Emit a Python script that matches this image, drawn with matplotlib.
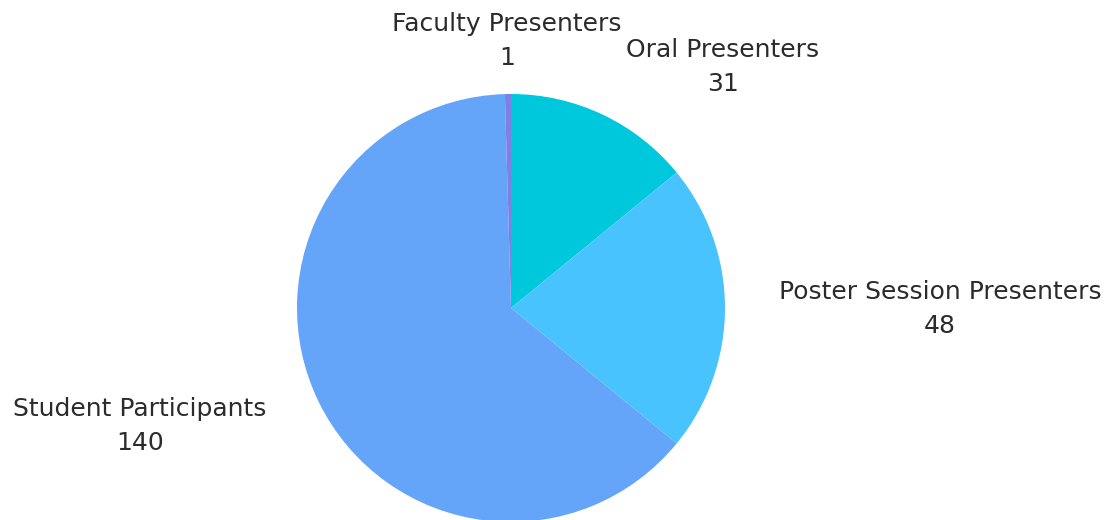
import matplotlib.pyplot as plt

# Data
labels = ['Oral Presenters', 'Poster Session Presenters', 'Student Participants', 'Faculty Presenters']
values = [31, 48, 140, 1]
colors = ['#00C8DC', '#48C3FD', '#64A5FA', '#7F7FE6']

# label placement (pixel coords, origin top-left)
label_pos = [(723, 67), (940, 309), (140, 426), (507, 41)]

fig = plt.figure(figsize=(11.1, 5.2), dpi=100)
ax = fig.add_axes([0, 0, 1, 1])

ax.pie(values, colors=colors, startangle=90, counterclock=False,
       center=(511, 520 - 308), radius=214, frame=True,
       wedgeprops={'linewidth': 0})
ax.set_xlim(0, 1110)
ax.set_ylim(0, 520)
ax.set_aspect('equal')
ax.axis('off')

for lab, val, (px, py) in zip(labels, values, label_pos):
    ax.text(px, 520 - py, f'{lab}\n{val}', ha='center', va='center',
            fontsize=18, color='#2b2b2b', family='DejaVu Sans', linespacing=1.5)

fig.savefig('out.png', dpi=100)
